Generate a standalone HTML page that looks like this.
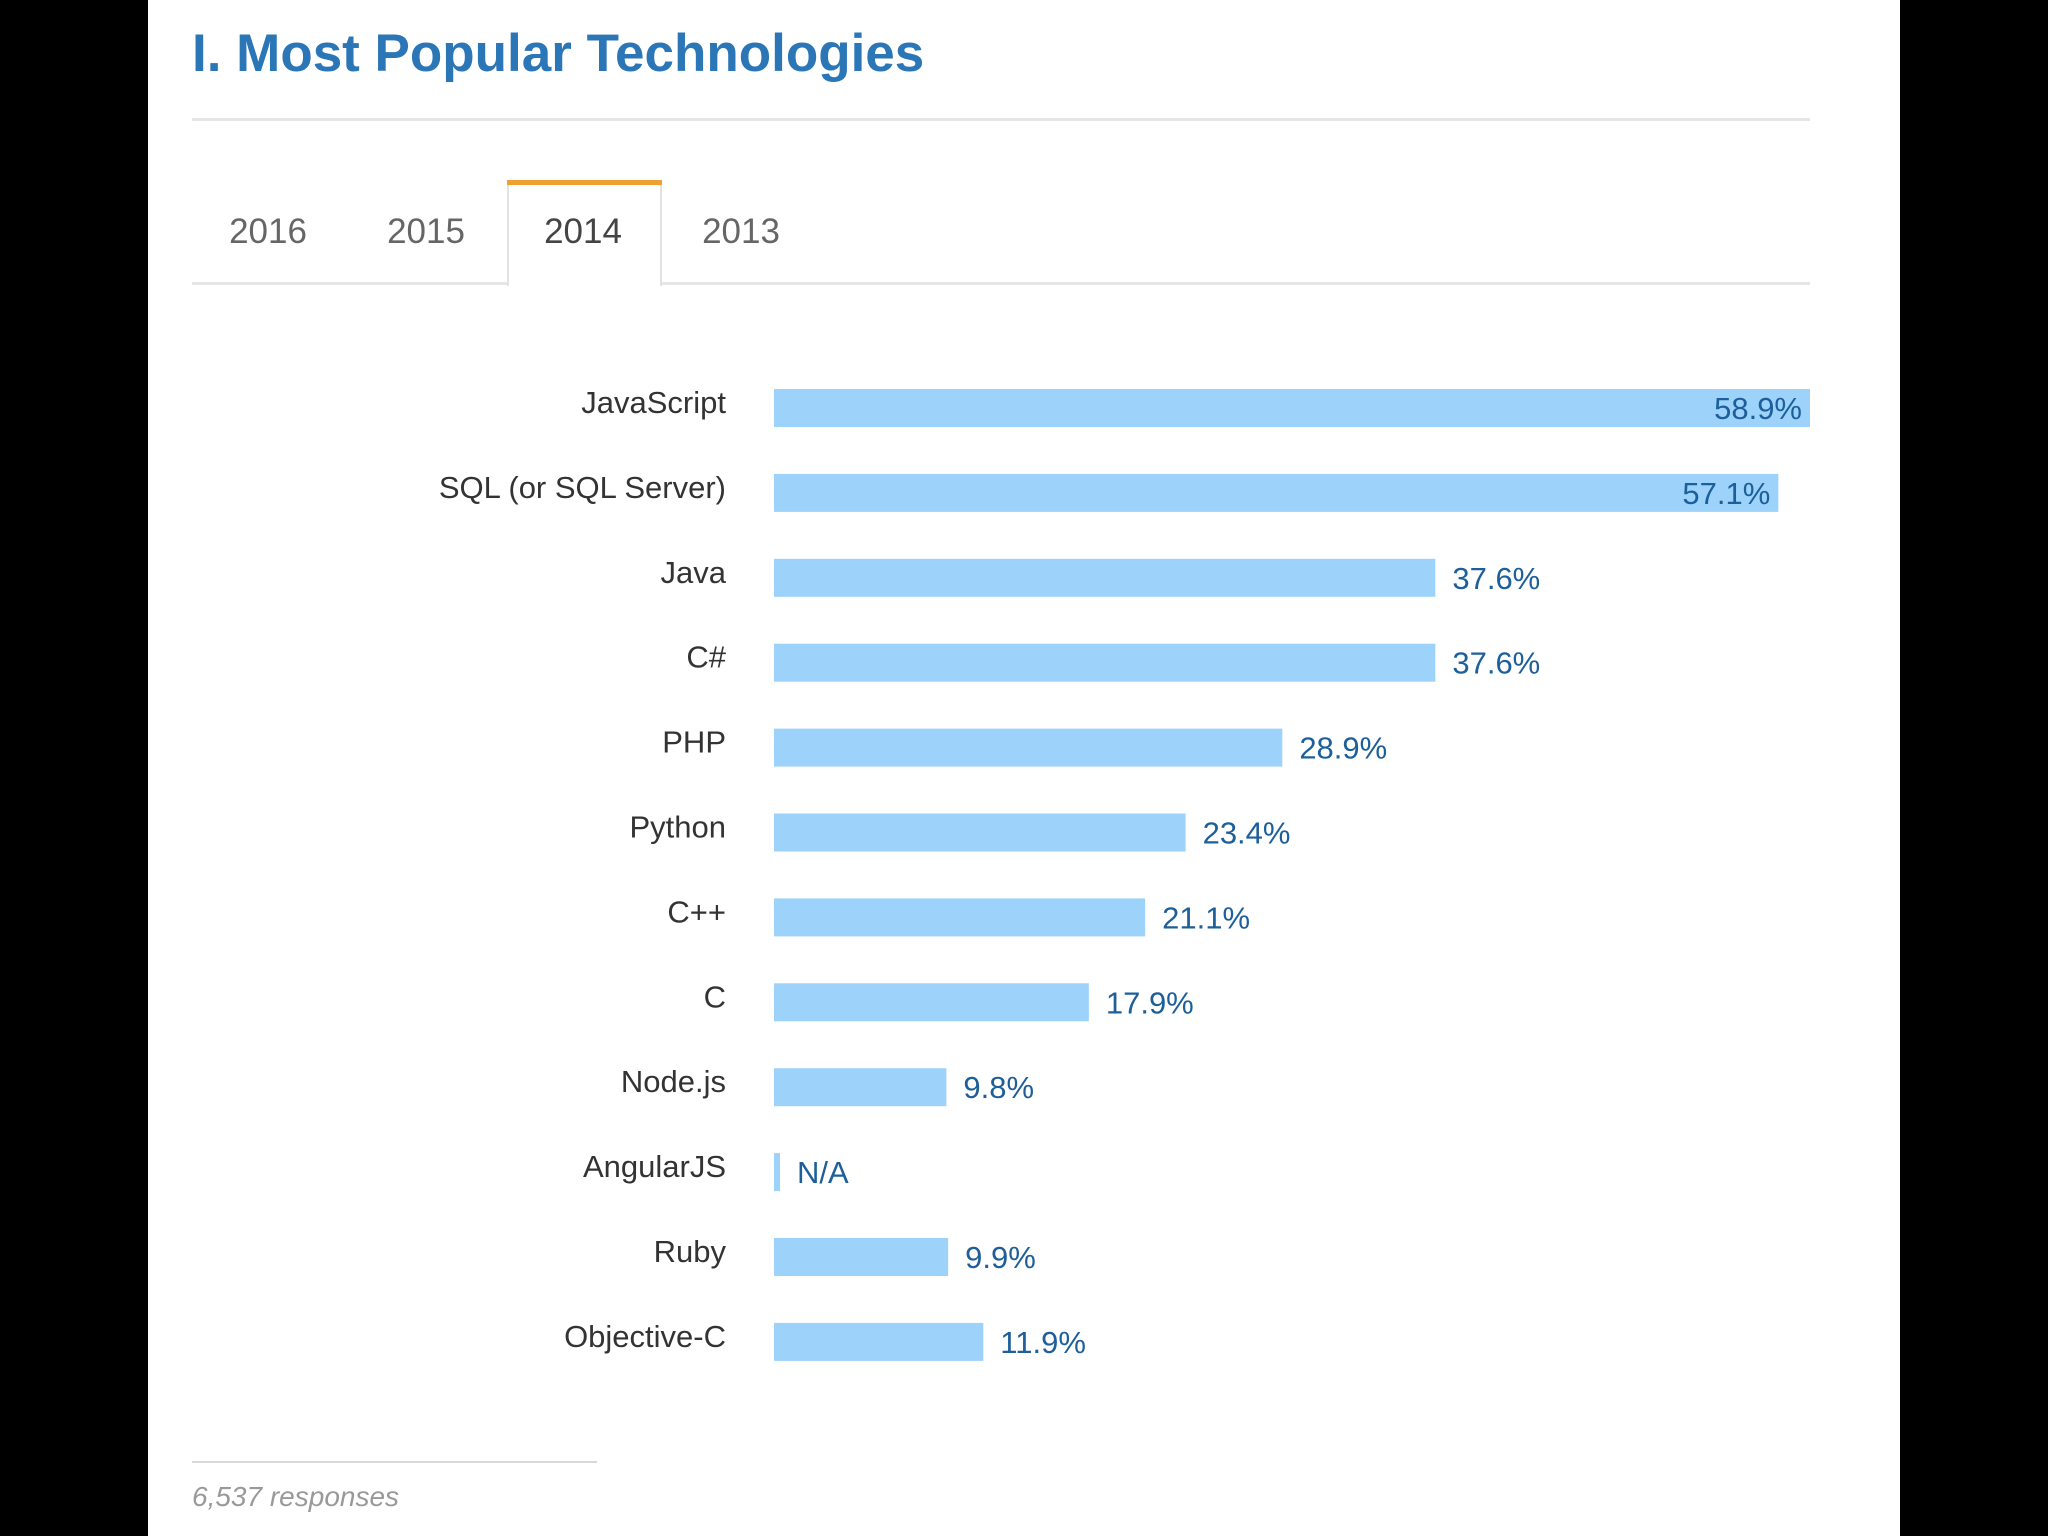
<!DOCTYPE html>
<html><head><meta charset="utf-8"><style>
html,body{margin:0;padding:0;background:#000;}
#page{position:relative;width:2048px;height:1536px;background:#000;overflow:hidden;font-family:"Liberation Sans",Arial,sans-serif;}
#card{position:absolute;left:148px;top:0;width:1752px;height:1536px;background:#fff;}
</style></head><body>
<div id="page">
<div id="card"></div>
<svg id="chart" width="2048" height="1536" style="position:absolute;left:0;top:0">
  <text x="192" y="71" font-size="53" font-weight="bold" fill="#2b76b6">I. Most Popular Technologies</text>
  <rect x="192" y="118" width="1618" height="3" fill="#e6e6e6"/>
  <rect x="192" y="282" width="1618" height="3" fill="#e6e6e6"/>
  <g>
    <rect x="508" y="182" width="153" height="103" fill="#fff" stroke="#e2e2e2" stroke-width="2"/>
    <rect x="507" y="180" width="155" height="5" fill="#f0a030"/>
    <rect x="509" y="281" width="151" height="5" fill="#fff"/>
    <text x="268" y="243" font-size="35" fill="#666" text-anchor="middle">2016</text>
    <text x="426" y="243" font-size="35" fill="#666" text-anchor="middle">2015</text>
    <text x="583" y="243" font-size="35" fill="#444" text-anchor="middle">2014</text>
    <text x="741" y="243" font-size="35" fill="#666" text-anchor="middle">2013</text>
  </g>
  <g id="bars"></g>
  <rect x="192" y="1461" width="405" height="2" fill="#d8d8d8"/>
  <text x="192" y="1506" font-size="28" font-style="italic" fill="#999">6,537 responses</text>
</svg>
</div>
<script>
const categories = ["JavaScript","SQL (or SQL Server)","Java","C#","PHP","Python","C++","C","Node.js","AngularJS","Ruby","Objective-C"];
const values = [58.9,57.1,37.6,37.6,28.9,23.4,21.1,17.9,9.8,null,9.9,11.9];
const valueLabels = ["58.9%","57.1%","37.6%","37.6%","28.9%","23.4%","21.1%","17.9%","9.8%","N/A","9.9%","11.9%"];

const NS="http://www.w3.org/2000/svg";
const x0=774, pxPer=(1810-774)/58.9, top0=389, rowH=84.9, barH=38;
function xScale(v){return x0+(v||0)*pxPer;}
function yScale(i){return top0+i*rowH;}
const g=document.getElementById('bars');
categories.forEach((c,i)=>{
  const y=yScale(i), v=values[i];
  const w = v==null ? 6 : xScale(v)-x0;
  const lab=document.createElementNS(NS,'text');
  lab.setAttribute('x',726);lab.setAttribute('y',y+24);
  lab.setAttribute('font-size','31');lab.setAttribute('fill','#333');lab.setAttribute('text-anchor','end');
  lab.textContent=c;
  
  
  g.appendChild(lab);
  const r=document.createElementNS(NS,'rect');
  r.setAttribute('x',x0);r.setAttribute('y',y);r.setAttribute('width',w);r.setAttribute('height',barH);
  r.setAttribute('fill','#9dd3fb');
  
  
  g.appendChild(r);
  const t=document.createElementNS(NS,'text');
  const inside = v!=null && v>50;
  t.setAttribute('x', inside ? x0+w-8 : x0+w+17);
  t.setAttribute('y',y+30);
  t.setAttribute('font-size','31');t.setAttribute('fill','#1d5f9a');
  t.setAttribute('text-anchor', inside?'end':'start');
  t.textContent=valueLabels[i];
  
  
  g.appendChild(t);
});
</script>
</body></html>
